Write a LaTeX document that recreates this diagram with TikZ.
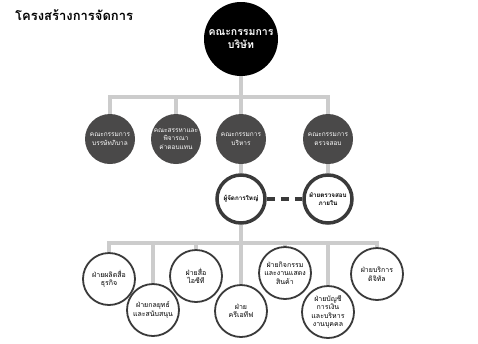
\documentclass[tikz,border=0pt]{standalone}
\usepackage{fontspec}
\newfontfamily\thaifont[Script=Thai]{Loma}
\usetikzlibrary{backgrounds}
\definecolor{linegray}{HTML}{CCCCCC}
\definecolor{darkfill}{HTML}{4A4949}
\definecolor{ringgray}{HTML}{3A3A3A}
\tikzset{
  board/.style={circle, fill=black, text=white, minimum size=74pt, inner sep=0pt, align=center,
    font=\thaifont\bfseries\fontsize{10.5}{13}\selectfont},
  committee/.style={circle, fill=darkfill, text=white, minimum size=50pt, inner sep=0pt, align=center,
    font=\thaifont\fontsize{6.5}{8.5}\selectfont},
  execbox/.style={circle, draw=ringgray, line width=3.5pt, fill=white, minimum size=48pt, inner sep=0pt, align=center,
    font=\thaifont\bfseries\fontsize{6.3}{8.5}\selectfont},
  dept/.style={circle, draw=ringgray, line width=1.8pt, fill=white, minimum size=52pt, inner sep=0pt, align=center,
    font=\thaifont\fontsize{7}{8.5}\selectfont},
  link/.style={draw=linegray, line width=4pt},
  dashlink/.style={draw=ringgray, line width=3.5pt, dash pattern=on 8pt off 6pt},
  titletext/.style={anchor=west, inner sep=0pt, font=\thaifont\bfseries\fontsize{13}{15}\selectfont},
}
\begin{document}
\begin{tikzpicture}[x=1pt,y=-1pt]
\useasboundingbox (0,0) rectangle (478,343);
\node[titletext] (title) at (15,15) {โครงสร้างการจัดการ};

\node[board] (top) at (241,39) {คณะกรรมการ\\บริษัท};

\node[committee] (k1) at (110,139) {คณะกรรมการ\\บรรษัทภิบาล};
\node[committee] (k2) at (176,139) {คณะสรรหาและ\\พิจารณา\\ค่าตอบแทน};
\node[committee] (k3) at (241,139) {คณะกรรมการ\\บริหาร};
\node[committee] (k4) at (328,139) {คณะกรรมการ\\ตรวจสอบ};

\node[execbox] (gm) at (241,199) {ผู้จัดการใหญ่};
\node[execbox] (ia) at (328,199) {ฝ่ายตรวจสอบ\\ภายใน};

\node[dept] (d1) at (109,279) {ฝ่ายผลิตสื่อ\\ธุรกิจ};
\node[dept] (d2) at (153,310) {ฝ่ายกลยุทธ์\\และสนับสนุน};
\node[dept] (d3) at (196,276) {ฝ่ายสื่อ\\ไอซีที};
\node[dept] (d4) at (241,311) {ฝ่าย\\ครีเอทีฟ};
\node[dept] (d5) at (285,273) {ฝ่ายกิจกรรม\\และงานแสดง\\สินค้า};
\node[dept] (d6) at (328,312) {ฝ่ายบัญชี\\การเงิน\\และบริหาร\\งานบุคคล};
\node[dept] (d7) at (377,274) {ฝ่ายบริการ\\ดิจิทัล};

\coordinate (bar1) at (241,97);
\coordinate (bar2) at (241,243);

\begin{scope}[on background layer]
  \fill[white] (0,0) rectangle (478,343);
  \draw[link] (top) -- (k3);
  \draw[link] (k1) -- (k1 |- bar1) -- (k4 |- bar1) -- (k4);
  \draw[link] (k2) -- (k2 |- bar1);
  \draw[link] (k3) -- (gm);
  \draw[link] (k4) -- (ia);
  \draw[link] (gm) -- (d4);
  \draw[link] (d1) -- (d1 |- bar2) -- (d7 |- bar2) -- (d7);
  \draw[link] (d2) -- (d2 |- bar2);
  \draw[link] (d3) -- (d3 |- bar2);
  \draw[link] (d5) -- (d5 |- bar2);
  \draw[link] (d6) -- (d6 |- bar2);
\end{scope}
\draw[dashlink] (gm.east) -- (ia.west);
\end{tikzpicture}
\end{document}
